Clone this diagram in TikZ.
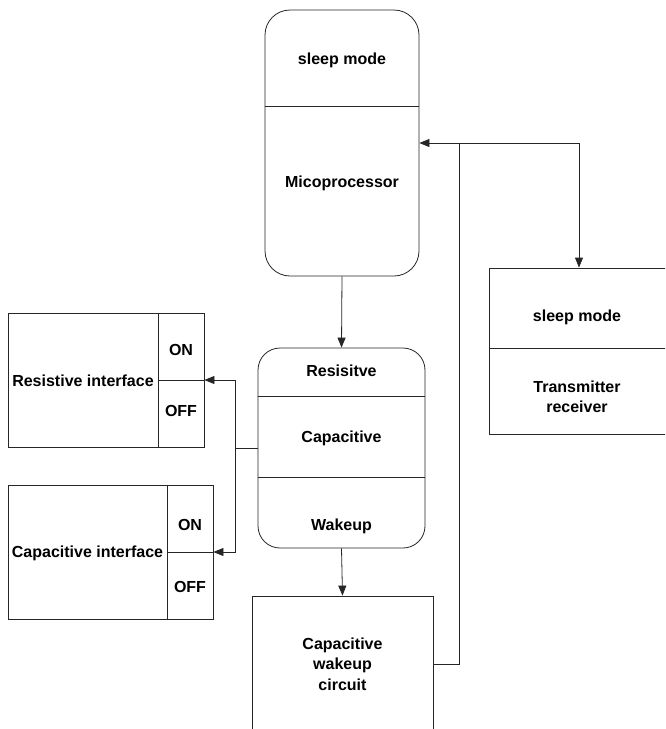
\documentclass[tikz,border=0pt]{standalone}
\usepackage{fontspec}
\setmainfont{Liberation Sans}
\usetikzlibrary{positioning, arrows.meta}

\tikzset{
  blk/.style={draw=black!85, line width=0.8pt, inner sep=0pt},
  lbl/.style={font=\bfseries\fontsize{16pt}{20.5pt}\selectfont, inner sep=0pt, align=center},
  arr/.style={draw=black!85, line width=0.8pt, -{Triangle[length=10pt,width=8pt]}},
  wire/.style={draw=black!85, line width=0.8pt}
}

\begin{document}
\begin{tikzpicture}[x=1pt, y=-1pt]
            \useasboundingbox (0,0) rectangle (665,729);
            \clip (0,0) rectangle (665,729);

            % blocks
            \node[blk, rounded corners=25pt, minimum width=154pt, minimum height=266pt] (micro) at (342, 143) {};
            \node[blk, rounded corners=22pt, minimum width=167pt, minimum height=200pt] (grp) at (341.5, 448) {};
            \node[blk, minimum width=180pt, minimum height=166pt] (radio) at (579, 351) {};
            \node[blk, minimum width=181pt, minimum height=136pt] (wakebox) at (342.5, 664) {};
            \node[blk, minimum width=196pt, minimum height=134pt] (resif) at (106, 380) {};
            \node[blk, minimum width=205pt, minimum height=134pt] (capif) at (110.5, 552) {};

            % dividers
            \draw[wire] ([yshift=-97pt]micro.north west) -- ([yshift=-97pt]micro.north east);
            \draw[wire] ([yshift=-49pt]grp.north west) -- ([yshift=-49pt]grp.north east);
            \draw[wire] ([yshift=-130pt]grp.north west) -- ([yshift=-130pt]grp.north east);
            \draw[wire] ([yshift=-81pt]radio.north west) -- ([yshift=-81pt]radio.north east);
            \draw[wire] ([xshift=-46pt]resif.north east) -- ([xshift=-46pt]resif.south east);
            \draw[wire] ([xshift=-46pt]resif.east) -- (resif.east);
            \draw[wire] ([xshift=-46pt]capif.north east) -- ([xshift=-46pt]capif.south east);
            \draw[wire] ([xshift=-46pt]capif.east) -- (capif.east);

            % labels
            \node[lbl] (microsleep) at (342, 60) {sleep mode};
            \node[lbl] (microproc) at (342, 183) {Micoprocessor};
            \node[lbl] (grpres) at (341.5, 371) {Resisitve};
            \node[lbl] (grpcap) at (341.5, 438) {Capacitive};
            \node[lbl] (grpwake) at (341.5, 526) {Wakeup};
            \node[lbl] (radiosleep) at (577, 317) {sleep mode};
            \node[lbl] (radiotx) at (577, 397) {Transmitter\\receiver};
            \node[lbl] (wakecirc) at (342.5, 664) {Capacitive\\wakeup\\circuit};
            \node[lbl] (resiftxt) at (83, 381) {Resistive interface};
            \node[lbl] (resifon) at (181, 350) {ON};
            \node[lbl] (resifoff) at (181, 411) {OFF};
            \node[lbl] (capiftxt) at (87.5, 553) {Capacitive interface};
            \node[lbl] (capifon) at (190, 525) {ON};
            \node[lbl] (capifoff) at (190, 587) {OFF};

            % connectors
            \coordinate (junction) at (459, 143);
            \coordinate (split) at (235, 448);
            \draw[arr] (micro.south) -- (grp.north);
            \draw[arr] (grp.south) -- (wakebox.north);
            \draw[arr] (wakebox.east) -| (junction) -- (micro.east);
            \draw[arr] (junction) -| (radio.north);
            \draw[wire] (grp.west) -- (split);
            \draw[arr] (split) |- (resif.east);
            \draw[arr] (split) |- (capif.east);
        \end{tikzpicture}
\end{document}
